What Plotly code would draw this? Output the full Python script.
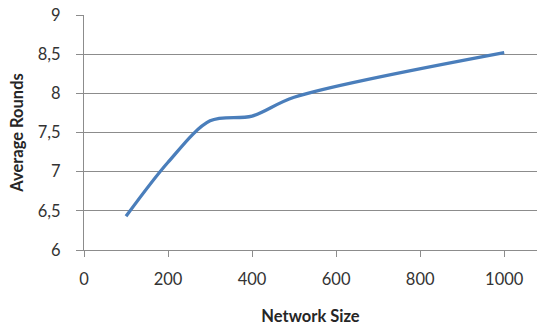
import plotly.graph_objects as go

network_size = [100, 200, 300, 400, 500, 1000]
avg_rounds = [6.43, 7.12, 7.65, 7.71, 7.95, 8.52]

x_ticks = [0, 200, 400, 600, 800, 1000]
y_ticks = [6, 6.5, 7, 7.5, 8, 8.5, 9]

fig = go.Figure()
fig.add_trace(go.Scatter(
    x=network_size, y=avg_rounds, mode="lines",
    line=dict(color="#4A7EBB", width=3.3, shape="spline", smoothing=0.9),
    showlegend=False, hoverinfo="skip",
))

grid = "#8C8C8C"
fig.update_layout(
    width=537, height=327,
    margin=dict(l=84, r=0, t=14.5, b=76.5, autoexpand=False),
    paper_bgcolor="white", plot_bgcolor="white",
    separators=",.",
    font=dict(family="Lato, Open Sans, sans-serif", size=16.5, color="#333333"),
    xaxis=dict(
        range=[0, 1078], tickvals=x_ticks, showgrid=False, zeroline=False,
        showline=True, linecolor=grid, linewidth=1, automargin=False,
        ticks="outside", ticklen=6, tickcolor=grid, tickwidth=1,
        ticklabelstandoff=8,
        title=dict(text="<b>Network Size</b>", font=dict(size=16.5, color="#262626"), standoff=22),
    ),
    yaxis=dict(
        range=[6, 9], tickvals=y_ticks, showgrid=True, gridcolor=grid, gridwidth=1,
        zeroline=False, showline=True, linecolor=grid, linewidth=1, automargin=False,
        ticks="outside", ticklen=7, tickcolor=grid, tickwidth=1,
        ticklabelstandoff=12,
        title=dict(text="<b>Average Rounds</b>", font=dict(size=16.5, color="#262626"), standoff=10),
    ),
)

fig.write_html(
    "out.html",
    config={"displayModeBar": False, "staticPlot": True},
    post_script="document.body.style.margin='0';document.body.style.overflow='hidden';",
)
